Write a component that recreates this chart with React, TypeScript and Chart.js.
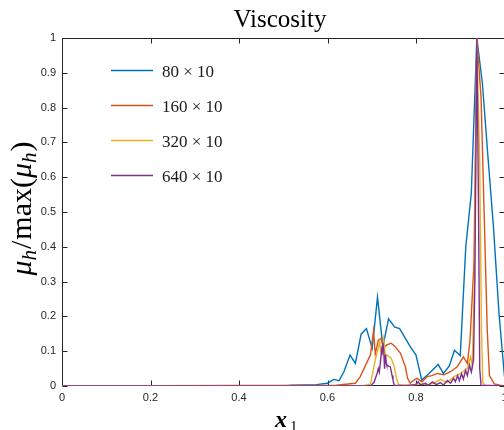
import React, { useEffect, useRef } from "react";
import { Chart, registerables } from "chart.js";
Chart.register(...registerables);

const seriesLabels = ["80 × 10", "160 × 10", "320 × 10", "640 × 10"];
const seriesColors = ["#0072BD", "#D95319", "#EDB120", "#7E2F8E"];

const x80 = [0, 0.5, 0.52, 0.55, 0.575, 0.6, 0.614, 0.626, 0.637, 0.651, 0.663, 0.676, 0.688, 0.701, 0.713, 0.725, 0.738, 0.752, 0.763, 0.787, 0.8, 0.813, 0.825, 0.837, 0.85, 0.862, 0.875, 0.887, 0.9, 0.9125, 0.925, 0.9375, 0.95, 0.9625, 0.975, 0.9875, 1];
const y80 = [0, 0, 0.002, 0.003, 0.004, 0.008, 0.019, 0.015, 0.041, 0.089, 0.065, 0.149, 0.165, 0.108, 0.255, 0.113, 0.193, 0.169, 0.165, 0.113, 0.089, 0.017, 0.031, 0.045, 0.062, 0.036, 0.057, 0.103, 0.087, 0.4, 0.554, 1.0, 0.87, 0.66, 0.458, 0.209, 0.027];

const x160 = [0, 0.62, 0.663, 0.674, 0.689, 0.697, 0.704, 0.708, 0.715, 0.721, 0.727, 0.734, 0.744, 0.753, 0.765, 0.776, 0.781, 0.787, 0.795, 0.802, 0.814, 0.825, 0.836, 0.848, 0.863, 0.878, 0.893, 0.907, 0.916, 0.922, 0.931, 0.9375, 0.947, 0.955, 0.961, 0.966, 0.977, 0.99, 1];
const y160 = [0, 0.002, 0.008, 0.027, 0.068, 0.089, 0.158, 0.092, 0.132, 0.137, 0.11, 0.118, 0.123, 0.113, 0.094, 0.055, 0.022, 0.008, 0.017, 0.022, 0.012, 0.027, 0.03, 0.036, 0.032, 0.041, 0.055, 0.084, 0.065, 0.13, 0.353, 1.0, 0.83, 0.45, 0.16, 0.03, 0.006, 0.002, 0];

const x320 = [0, 0.68, 0.697, 0.708, 0.713, 0.718, 0.72, 0.723, 0.727, 0.731, 0.734, 0.744, 0.751, 0.757, 0.761, 0.787, 0.81, 0.826, 0.84, 0.855, 0.87, 0.886, 0.901, 0.916, 0.923, 0.927, 0.932, 0.9375, 0.944, 0.948, 0.951, 0.957, 1];
const y320 = [0, 0.001, 0.005, 0.075, 0.1, 0.127, 0.1, 0.09, 0.135, 0.084, 0.089, 0.08, 0.055, 0.017, 0.004, 0.002, 0.006, 0.004, 0.008, 0.019, 0.01, 0.027, 0.036, 0.051, 0.084, 0.06, 0.3, 1.0, 0.64, 0.16, 0.01, 0, 0];

const x640 = [0, 0.7, 0.7, 0.705, 0.712, 0.715, 0.717, 0.719, 0.722, 0.723, 0.725, 0.727, 0.729, 0.731, 0.733, 0.734, 0.737, 0.742, 0.746, 0.748, 0.751, 0.776, 0.799, 0.805, 0.81, 0.821, 0.828, 0.837, 0.846, 0.855, 0.862, 0.871, 0.878, 0.885, 0.889, 0.894, 0.898, 0.903, 0.907, 0.912, 0.916, 0.921, 0.925, 0.93, 0.933, 0.9375, 0.941, 0.944, 0.947, 1];
const y640 = [0, 0.001, 0.004, 0.01, 0.036, 0.05, 0.04, 0.062, 0.1, 0.09, 0.125, 0.103, 0.05, 0.09, 0.065, 0.06, 0.058, 0.055, 0.03, 0.017, 0.002, 0.001, 0.004, 0.012, 0.003, 0.008, 0.002, 0.012, 0.004, 0.01, 0.003, 0.016, 0.008, 0.022, 0.012, 0.03, 0.015, 0.035, 0.02, 0.045, 0.03, 0.06, 0.04, 0.075, 0.3, 1.0, 0.55, 0.05, 0.002, 0];

const xTicks = [0, 0.2, 0.4, 0.6, 0.8, 1];
const xTickLabels = ["0", "0.2", "0.4", "0.6", "0.8", "1"];
const yTicks = [0, 0.1, 0.2, 0.3, 0.4, 0.5, 0.6, 0.7, 0.8, 0.9, 1];
const yTickLabels = ["0", "0.1", "0.2", "0.3", "0.4", "0.5", "0.6", "0.7", "0.8", "0.9", "1"];

const axisColor = "#262626";
const serif = "'Liberation Serif', 'DejaVu Serif', serif";

const decor = {
  id: "decor",
  beforeDatasetsDraw(chart: any) {
    const { ctx, chartArea: a, scales } = chart;
    ctx.save();
    ctx.strokeStyle = axisColor;
    ctx.lineWidth = 1;
    const L = a.left + 0.5, R = a.right, T = a.top + 0.5, B = a.bottom - 0.5;
    ctx.beginPath();
    ctx.moveTo(L, T); ctx.lineTo(R, T);
    ctx.moveTo(L, T); ctx.lineTo(L, B);
    ctx.moveTo(L, B); ctx.lineTo(R, B);
    ctx.moveTo(R, T); ctx.lineTo(R, B);
    const tl = 5;
    xTicks.forEach((v) => {
      const p = Math.round(scales.x.getPixelForValue(v)) + 0.5;
      ctx.moveTo(p, B); ctx.lineTo(p, B - tl);
      ctx.moveTo(p, T); ctx.lineTo(p, T + tl);
    });
    yTicks.forEach((v) => {
      const p = Math.round(scales.y.getPixelForValue(v)) + 0.5;
      ctx.moveTo(L, p); ctx.lineTo(L + tl, p);
      ctx.moveTo(R, p); ctx.lineTo(R - tl, p);
    });
    ctx.stroke();
    ctx.restore();
  },
  afterDraw(chart: any) {
    const { ctx } = chart;
    ctx.save();
    // title
    ctx.fillStyle = "#000";
    ctx.font = `25px ${serif}`;
    ctx.textAlign = "center";
    ctx.textBaseline = "alphabetic";
    ctx.fillText("Viscosity", 280, 27);
    // legend
    ctx.textAlign = "left";
    ctx.font = `17px ${serif}`;
    const rows = [70.5, 105.5, 140.5, 175.5];
    seriesLabels.forEach((lab, i) => {
      ctx.strokeStyle = seriesColors[i];
      ctx.lineWidth = 1.4;
      ctx.beginPath();
      ctx.moveTo(111, rows[i]);
      ctx.lineTo(153, rows[i]);
      ctx.stroke();
      ctx.fillStyle = "#1a1a1a";
      ctx.fillText(lab, 162, rows[i] + 6);
    });
    // x label
    ctx.fillStyle = "#000";
    ctx.font = `bold italic 24px ${serif}`;
    ctx.fillText("x", 275, 427);
    ctx.font = `15px ${serif}`;
    ctx.fillText("1", 290, 431);
    // y label
    const size = 30;
    const sub = Math.round(size * 0.7);
    const parts = [
      { t: "μ", f: `italic ${size}px ${serif}`, dy: 0, gap: 0 },
      { t: "h", f: `italic ${sub}px ${serif}`, dy: size * 0.18, gap: 1 },
      { t: "/", f: `${size}px ${serif}`, dy: 0, gap: 1 },
      { t: "max", f: `${size}px ${serif}`, dy: 0, gap: 0 },
      { t: "(", f: `${size}px ${serif}`, dy: 0, gap: 0 },
      { t: "μ", f: `italic ${size}px ${serif}`, dy: 0, gap: 0 },
      { t: "h", f: `italic ${sub}px ${serif}`, dy: size * 0.18, gap: 1 },
      { t: ")", f: `${size}px ${serif}`, dy: 0, gap: 0 },
    ];
    let total = 0;
    const widths = parts.map((p) => {
      ctx.font = p.f;
      const w = ctx.measureText(p.t).width + p.gap;
      total += w;
      return w;
    });
    ctx.translate(31, 208.5 + total / 2);
    ctx.rotate(-Math.PI / 2);
    let xp = 0;
    parts.forEach((p, i) => {
      ctx.font = p.f;
      ctx.fillText(p.t, xp, p.dy);
      xp += widths[i];
    });
    ctx.restore();
  },
};

export default function App() {
  const ref = useRef<HTMLCanvasElement>(null);
  useEffect(() => {
    const xs = [x80, x160, x320, x640];
    const ys = [y80, y160, y320, y640];
    const chart = new Chart(ref.current!, {
      type: "line",
      data: {
        datasets: seriesLabels.map((lab, i) => ({
          label: lab,
          data: xs[i].map((x, j) => ({ x, y: ys[i][j] })),
          borderColor: seriesColors[i],
          borderWidth: 1.4,
          pointRadius: 0,
          fill: false,
          tension: 0,
          order: 4 - i,
        })),
      },
      options: {
        animation: false,
        responsive: false,
        devicePixelRatio: 1,
        layout: { padding: { top: 38, right: 15.5, left: 0, bottom: 0 } },
        plugins: { legend: { display: false }, tooltip: { enabled: false } },
        scales: {
          x: {
            type: "linear",
            min: 0,
            max: 1,
            grid: { display: false, drawTicks: false, tickLength: 0 },
            border: { display: false },
            afterBuildTicks: (s: any) => { s.ticks = xTicks.map((v) => ({ value: v })); },
            afterFit: (s: any) => { s.height = 44; },
            ticks: {
              autoSkip: false,
              maxRotation: 0,
              padding: 5,
              color: axisColor,
              font: { family: "'Liberation Sans', Arial, sans-serif", size: 11 },
              callback: (v: any) => { const k = xTicks.indexOf(v); return k >= 0 ? xTickLabels[k] : ""; },
            },
          },
          y: {
            type: "linear",
            min: 0,
            max: 1,
            grid: { display: false, drawTicks: false, tickLength: 0 },
            border: { display: false },
            afterBuildTicks: (s: any) => { s.ticks = yTicks.map((v) => ({ value: v })); },
            afterFit: (s: any) => { s.width = 62; },
            ticks: {
              autoSkip: false,
              padding: 6,
              color: axisColor,
              font: { family: "'Liberation Sans', Arial, sans-serif", size: 11 },
              callback: (v: any) => { const k = yTicks.indexOf(v); return k >= 0 ? yTickLabels[k] : ""; },
            },
          },
        },
      },
      plugins: [decor],
    } as any);
    return () => chart.destroy();
  }, []);
  return (
    <div style={{ position: "absolute", left: 0, top: 0, width: 504, height: 430, overflow: "hidden", background: "#fff" }}>
      <canvas ref={ref} width={520} height={430} style={{ display: "block" }} />
    </div>
  );
}
